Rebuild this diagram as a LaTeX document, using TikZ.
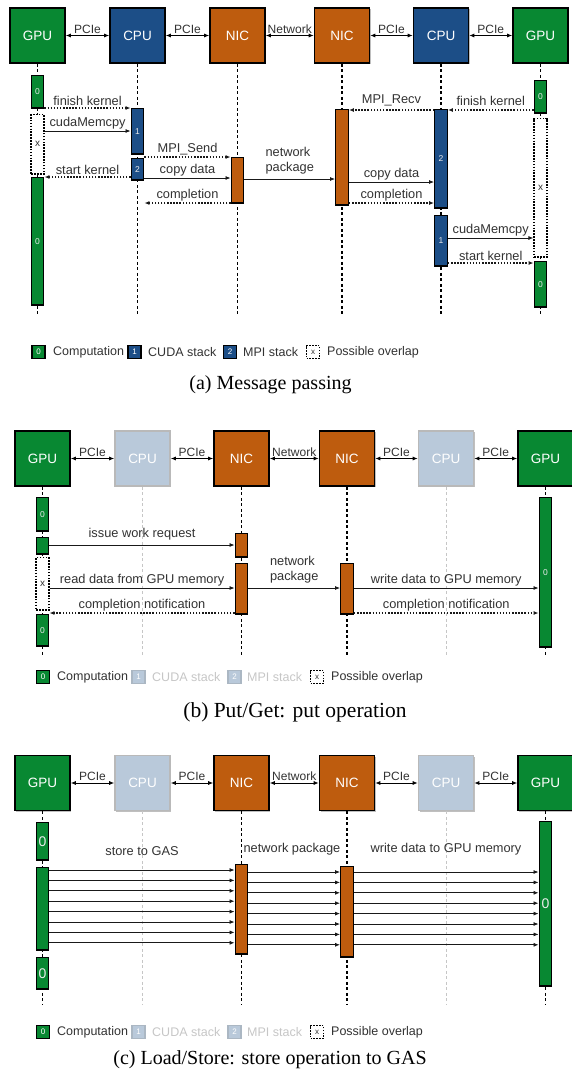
\documentclass[tikz,border=0pt]{standalone}
\usepackage{fontspec}
\setmainfont{Liberation Serif}
\setsansfont{Liberation Sans}
\usetikzlibrary{arrows.meta,shadows,calc}
\definecolor{gpug}{RGB}{8,136,50}
\definecolor{cpub}{RGB}{28,78,135}
\definecolor{nico}{RGB}{190,92,14}
\definecolor{cpul}{RGB}{185,201,218}
\definecolor{txtg}{RGB}{50,50,50}
\tikzset{
  hdr/.style={draw=black, line width=1.6pt, minimum width=55pt, minimum height=55pt, inner sep=0pt,
    text=white, font=\sffamily\fontsize{13.5}{15}\selectfont,
    drop shadow={shadow xshift=1pt, shadow yshift=-1pt, fill=black, opacity=0.25}},
  hgpu/.style={hdr, fill=gpug},
  hcpu/.style={hdr, fill=cpub},
  hnic/.style={hdr, fill=nico},
  hcpuoff/.style={hdr, fill=cpul, draw=gray!55},
  bar/.style={draw=black, line width=1.4pt, minimum width=12.5pt, inner sep=0pt, anchor=north,
    text=white!85!gray, font=\sffamily\fontsize{8.5}{9}\selectfont},
  gbar/.style={bar, fill=gpug},
  gbarL/.style={gbar, font=\sffamily\fontsize{14}{15}\selectfont},
  cbar/.style={bar, fill=cpub},
  nbar/.style={bar, fill=nico},
  xbar/.style={bar, fill=white, line width=1.7pt, dash pattern=on 1.6pt off 1.3pt, text=txtg,
    font=\sffamily\fontsize{10}{11}\selectfont},
  life/.style={line width=1.3pt, dash pattern=on 3pt off 2.5pt},
  lifeoff/.style={line width=1pt, draw=gray!45, dash pattern=on 3pt off 2.5pt},
  msg/.style={line width=0.8pt, draw=black!90, -{Latex[length=5pt,width=4pt]}},
  dmsg/.style={msg, line width=1.2pt, dash pattern=on 1.5pt off 1.6pt},
  link/.style={line width=0.8pt, {Latex[length=5pt,width=4pt]}-{Latex[length=5pt,width=4pt]}},
  lab/.style={font=\sffamily\fontsize{12.8}{14.8}\selectfont, text=txtg, inner sep=1.5pt},
  plab/.style={font=\sffamily\fontsize{12}{14}\selectfont, text=txtg, inner sep=1.5pt},
  lgsq/.style={draw=black, line width=1.4pt, minimum size=13pt, inner sep=0pt, text=white,
    font=\sffamily\fontsize{8}{9}\selectfont},
  lgsqoff/.style={lgsq, fill=cpul, draw=cpul!75!gray},
  lgdot/.style={lgsq, fill=white, line width=1.7pt, dash pattern=on 1.6pt off 1.3pt, text=txtg},
  legt/.style={font=\sffamily\fontsize{12.5}{14}\selectfont, text=txtg, anchor=west, inner sep=0pt},
  legtoff/.style={legt, text=gray!45},
  capt/.style={font=\rmfamily\fontsize{20}{22}\selectfont, text=black, inner sep=0pt},
}
\newcommand\actbar[6]{%
  \pgfmathsetmacro\abtop{#4+0.7}%
  \pgfmathsetmacro\abht{#5-#4-1.4}%
  \node[#2, minimum height=\abht pt] (#1) at (#3.south |- 0,\abtop) {#6};}
\begin{document}
\begin{tikzpicture}[x=1pt,y=-1pt]
\useasboundingbox (0,0) rectangle (571,1076);
% ================= (a) =================
\node[hgpu] (a-gpu1) at (37.5,35.5) {GPU};
\node[hcpu] (a-cpu1) at (137.5,35.5) {CPU};
\node[hnic] (a-nic1) at (237.5,35.5) {NIC};
\node[hnic] (a-nic2) at (342,35.5) {NIC};
\node[hcpu] (a-cpu2) at (441,35.5) {CPU};
\node[hgpu] (a-gpu2) at (540.5,35.5) {GPU};
\draw[link] (a-gpu1) -- (a-cpu1) node[plab, midway, above]{PCIe};
\draw[link] (a-cpu1) -- (a-nic1) node[plab, midway, above]{PCIe};
\draw[link] (a-nic1) -- (a-nic2) node[plab, midway, above]{Network};
\draw[link] (a-nic2) -- (a-cpu2) node[plab, midway, above]{PCIe};
\draw[link] (a-cpu2) -- (a-gpu2) node[plab, midway, above]{PCIe};
\foreach \n in {gpu1,cpu1,nic1,nic2,cpu2,gpu2}
  \draw[life] (a-\n.south) -- (a-\n.south |- 0,316);
\actbar{a-g0}{gbar}{a-gpu1}{74}{108}{0}
\actbar{a-gx}{xbar}{a-gpu1}{113}{174}{x}
\actbar{a-g0b}{gbar}{a-gpu1}{176}{305}{0}
\actbar{a-c1}{cbar}{a-cpu1}{107}{154}{1}
\actbar{a-c2}{cbar}{a-cpu1}{157}{180}{2}
\actbar{a-n}{nbar}{a-nic1}{156}{203}{}
\actbar{a-m}{nbar}{a-nic2}{108}{205}{}
\actbar{a-d2}{cbar}{a-cpu2}{108}{208}{2}
\actbar{a-d1}{cbar}{a-cpu2}{214}{266}{1}
\actbar{a-h0}{gbar}{a-gpu2}{79}{113}{0}
\actbar{a-hx}{xbar}{a-gpu2}{117}{257}{x}
\actbar{a-h0b}{gbar}{a-gpu2}{260}{307}{0}
\draw[dmsg] (a-g0.east |- 0,108) -- (a-c1.west |- 0,108) node[lab, midway, above]{finish kernel};
\draw[msg] (a-gx.east |- 0,131) -- (a-c1.west |- 0,131) node[lab, midway, above]{cudaMemcpy};
\draw[dmsg] (a-c2.east |- 0,157) -- (a-n.west |- 0,157) node[lab, midway, above]{MPI\_Send};
\draw[dmsg] (a-c2.west |- 0,177) -- (a-g0b.east |- 0,177) node[lab, midway, above]{start kernel};
\draw[msg] (a-c2.east |- 0,178) -- (a-n.west |- 0,178) node[lab, midway, above]{copy data};
\draw[dmsg] (a-n.west |- 0,203) -- (a-c2.east |- 0,203) node[lab, midway, above]{completion};
\draw[msg] (a-n.east |- 0,179) -- (a-m.west |- 0,179) node[lab, midway, above=3pt, align=left]{network\\package};
\draw[dmsg] (a-d2.west |- 0,110) -- (a-m.east |- 0,110) node[lab, midway, above=2pt]{MPI\_Recv};
\draw[dmsg] (a-h0.west |- 0,110) -- (a-d2.east |- 0,110) node[lab, midway, above=2pt]{finish kernel};
\draw[msg] (a-m.east |- 0,182) -- (a-d2.west |- 0,182) node[lab, midway, above]{copy data};
\draw[dmsg] (a-m.east |- 0,203) -- (a-d2.west |- 0,203) node[lab, midway, above]{completion};
\draw[msg] (a-d1.east |- 0,238) -- (a-hx.west |- 0,238) node[lab, midway, above]{cudaMemcpy};
\draw[dmsg] (a-d1.east |- 0,263) -- (a-h0b.west |- 0,263) node[lab, midway, above]{start kernel};
\node[lgsq, fill=gpug] (a-l0) at (38.5,352) {0};
\node[legt] (a-t0) at (53,352) {Computation};
\node[lgsq, fill=cpub] (a-l1) at (134.5,352) {1};
\node[legt] (a-t1) at (148,352) {CUDA stack};
\node[lgsq, fill=cpub] (a-l2) at (230,352) {2};
\node[legt] (a-t2) at (243,352) {MPI stack};
\node[lgdot] (a-l3) at (313,352) {x};
\node[legt] (a-t3) at (327,352) {Possible overlap};
\node[capt] (a-cap) at (270.5,385) {(a) Message passing};
% ================= (b) =================
\node[hgpu] (b-gpu1) at (42.5,458.5) {GPU};
\node[hcpuoff] (b-cpu1) at (142.5,458.5) {CPU};
\node[hnic] (b-nic1) at (241.5,458.5) {NIC};
\node[hnic] (b-nic2) at (347,458.5) {NIC};
\node[hcpuoff] (b-cpu2) at (446,458.5) {CPU};
\node[hgpu] (b-gpu2) at (545.5,458.5) {GPU};
\draw[link] (b-gpu1) -- (b-cpu1) node[plab, midway, above]{PCIe};
\draw[link] (b-cpu1) -- (b-nic1) node[plab, midway, above]{PCIe};
\draw[link] (b-nic1) -- (b-nic2) node[plab, midway, above]{Network};
\draw[link] (b-nic2) -- (b-cpu2) node[plab, midway, above]{PCIe};
\draw[link] (b-cpu2) -- (b-gpu2) node[plab, midway, above]{PCIe};
\foreach \n in {gpu1,nic1,nic2,gpu2}
  \draw[life] (b-\n.south) -- (b-\n.south |- 0,657);
\foreach \n in {cpu1,cpu2}
  \draw[lifeoff] (b-\n.south) -- (b-\n.south |- 0,657);
\actbar{b-g0}{gbar}{b-gpu1}{496}{531}{0}
\actbar{b-gs}{gbar}{b-gpu1}{536}{554}{}
\actbar{b-gx}{xbar}{b-gpu1}{556}{610}{x}
\actbar{b-g0b}{gbar}{b-gpu1}{613}{646}{0}
\actbar{b-n1}{nbar}{b-nic1}{532}{557}{}
\actbar{b-n2}{nbar}{b-nic1}{562}{614}{}
\actbar{b-m}{nbar}{b-nic2}{562}{614}{}
\actbar{b-h}{gbar}{b-gpu2}{496}{647}{0}
\draw[msg] (b-gs.east |- 0,545) -- (b-n1.west |- 0,545) node[lab, midway, above=3pt]{issue work request};
\draw[msg] (b-gx.east |- 0,588) -- (b-n2.west |- 0,588) node[lab, midway, above]{read data from GPU memory};
\draw[dmsg] (b-n2.west |- 0,613) -- (b-g0b.east |- 0,613) node[lab, midway, above]{completion notification};
\draw[msg] (b-n2.east |- 0,588) -- (b-m.west |- 0,588) node[lab, midway, above=3pt, align=left]{network\\package};
\draw[msg] (b-m.east |- 0,588) -- (b-h.west |- 0,588) node[lab, midway, above]{write data to GPU memory};
\draw[dmsg] (b-m.east |- 0,613) -- (b-h.west |- 0,613) node[lab, midway, above]{completion notification};
\node[lgsq, fill=gpug] (b-l0) at (43,677) {0};
\node[legt] (b-t0) at (57,677) {Computation};
\node[lgsqoff] (b-l1) at (138.5,677) {1};
\node[legtoff] (b-t1) at (152,677) {CUDA stack};
\node[lgsqoff] (b-l2) at (234.5,677) {2};
\node[legtoff] (b-t2) at (247,677) {MPI stack};
\node[lgdot] (b-l3) at (317,677) {x};
\node[legt] (b-t3) at (331,677) {Possible overlap};
\node[capt, font=\rmfamily\fontsize{21.5}{23}\selectfont] (b-cap) at (295,712) {(b) Put/Get: put operation};
% ================= (c) =================
\node[hgpu] (c-gpu1) at (42.5,783) {GPU};
\node[hcpuoff] (c-cpu1) at (142.5,783) {CPU};
\node[hnic] (c-nic1) at (241.5,783) {NIC};
\node[hnic] (c-nic2) at (347,783) {NIC};
\node[hcpuoff] (c-cpu2) at (446,783) {CPU};
\node[hgpu] (c-gpu2) at (545.5,783) {GPU};
\draw[link] (c-gpu1) -- (c-cpu1) node[plab, midway, above]{PCIe};
\draw[link] (c-cpu1) -- (c-nic1) node[plab, midway, above]{PCIe};
\draw[link] (c-nic1) -- (c-nic2) node[plab, midway, above]{Network};
\draw[link] (c-nic2) -- (c-cpu2) node[plab, midway, above]{PCIe};
\draw[link] (c-cpu2) -- (c-gpu2) node[plab, midway, above]{PCIe};
\foreach \n in {gpu1,nic1,nic2,gpu2}
  \draw[life] (c-\n.south) -- (c-\n.south |- 0,1005);
\foreach \n in {cpu1,cpu2}
  \draw[lifeoff] (c-\n.south) -- (c-\n.south |- 0,1005);
\actbar{c-g0}{gbarL}{c-gpu1}{821}{860}{0}
\actbar{c-gb}{gbar}{c-gpu1}{866}{950}{}
\actbar{c-g0b}{gbarL}{c-gpu1}{956}{989}{0}
\actbar{c-n}{nbar}{c-nic1}{863}{954}{}
\actbar{c-m}{nbar}{c-nic2}{865}{957}{}
\actbar{c-h}{gbarL}{c-gpu2}{820}{986}{0}
\foreach \i in {0,...,7}{
  \pgfmathsetmacro\ya{870+10.4*\i}
  \pgfmathsetmacro\yb{872+10.4*\i}
  \draw[msg] (c-gb.east |- 0,\ya) -- (c-n.west |- 0,\ya);
  \draw[msg] (c-n.east |- 0,\yb) -- (c-m.west |- 0,\yb);
  \draw[msg] (c-m.east |- 0,\yb) -- (c-h.west |- 0,\yb);
}
\node[lab] (c-lab1) at (142,851) {store to GAS};
\node[lab] (c-lab2) at (292,849) {network package};
\node[lab] (c-lab3) at (446,849) {write data to GPU memory};
\node[lgsq, fill=gpug] (c-l0) at (43,1032) {0};
\node[legt] (c-t0) at (57,1032) {Computation};
\node[lgsqoff] (c-l1) at (138.5,1032) {1};
\node[legtoff] (c-t1) at (152,1032) {CUDA stack};
\node[lgsqoff] (c-l2) at (234.5,1032) {2};
\node[legtoff] (c-t2) at (247,1032) {MPI stack};
\node[lgdot] (c-l3) at (317,1032) {x};
\node[legt] (c-t3) at (331,1032) {Possible overlap};
\node[capt] (c-cap) at (270,1060) {(c) Load/Store: store operation to GAS};
\end{tikzpicture}
\end{document}
